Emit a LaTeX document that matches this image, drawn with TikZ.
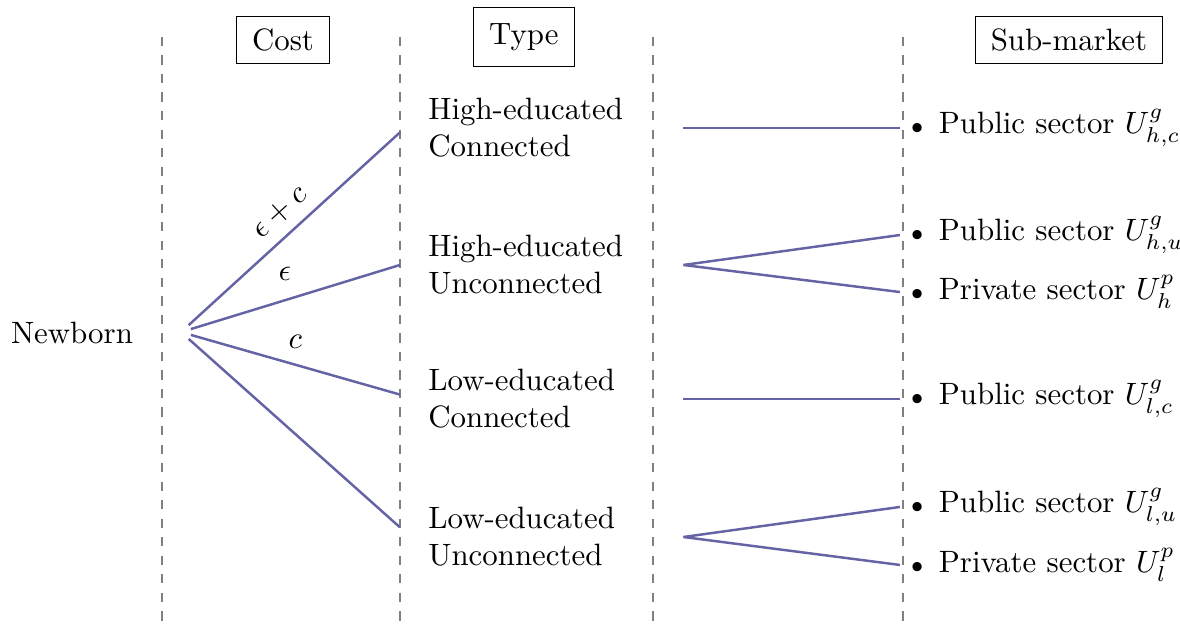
\documentclass[tikz,border=0pt]{standalone}
\usepackage{amsmath}
\definecolor{branch}{RGB}{100,100,165}
\newcommand{\sectordot}{$\scriptstyle\bullet$\hspace{0.5em}}

\begin{document}
\begin{tikzpicture}[
    header/.style = {draw, rectangle, inner xsep = 5pt, inner ysep = 4pt},
    group/.style = {rectangle, anchor = west, align = left, text width = 2.58cm, inner xsep = 9pt},
    sector/.style = {rectangle, anchor = west},
    branch_line/.style = {thick, draw = branch},
    divider/.style = {semithick, gray, dashed}
  ]
  \useasboundingbox (0, 0) rectangle (13.43, 7.17);

  % column dividers
  \foreach \x in {1.844, 4.552, 7.431, 10.276}
    \draw [divider] (\x, 6.75) -- (\x, 0);

  \node (cost) [header] at (3.221, 6.714) {Cost};
  \node (type) [header, minimum height = 0.67cm] at (5.963, 6.748) {Type};
  \node (submarket) [header] at (12.165, 6.714) {Sub-market};

  \node (newborn) at (0.819, 3.38) {Newborn};
  \node (split) [circle, minimum size = 0.22cm, inner sep = 0pt] at (2.06, 3.39) {};

  \node (hc) [group] at (4.552, 5.713) {High-educated\\Connected};
  \node (hu) [group] at (4.552, 4.154) {High-educated\\Unconnected};
  \node (lc) [group] at (4.552, 2.629) {Low-educated\\Connected};
  \node (lu) [group] at (4.552, 1.058) {Low-educated\\Unconnected};

  \node (pub_hc) [sector] at (10.242, 5.713) {\sectordot Public sector $U^g_{h,c}$};
  \node (pub_hu) [sector] at (10.242, 4.495) {\sectordot Public sector $U^g_{h,u}$};
  \node (priv_h) [sector] at (10.242, 3.846) {\sectordot Private sector $U^p_{h}$};
  \node (pub_lc) [sector] at (10.242, 2.629) {\sectordot Public sector $U^g_{l,c}$};
  \node (pub_lu) [sector] at (10.242, 1.400) {\sectordot Public sector $U^g_{l,u}$};
  \node (priv_l) [sector] at (10.242, 0.740) {\sectordot Private sector $U^p_{l}$};

  % cost of each type
  \draw [branch_line] (split) -- ([yshift = -0.05cm] hc.west) node [pos = 0.5, above, sloped] {$\epsilon + c$};
  \draw [branch_line] (split) -- (hu.west) node [pos = 0.45, above = 2.5pt] {$\epsilon$};
  \draw [branch_line] (split) -- ([yshift = 0.05cm] lc.west) node [pos = 0.5, above = 1.5pt] {$c$};
  \draw [branch_line] (split) -- ([yshift = 0.11cm] lu.west);

  % sub-markets open to each type
  \draw [branch_line] (hc.east) -- (pub_hc.west);
  \draw [branch_line] (hu.east) -- (pub_hu.west);
  \draw [branch_line] (hu.east) -- (priv_h.west);
  \draw [branch_line] (lc.east) -- (pub_lc.west);
  \draw [branch_line] (lu.east) -- (pub_lu.west);
  \draw [branch_line] (lu.east) -- (priv_l.west);
\end{tikzpicture}
\end{document}
